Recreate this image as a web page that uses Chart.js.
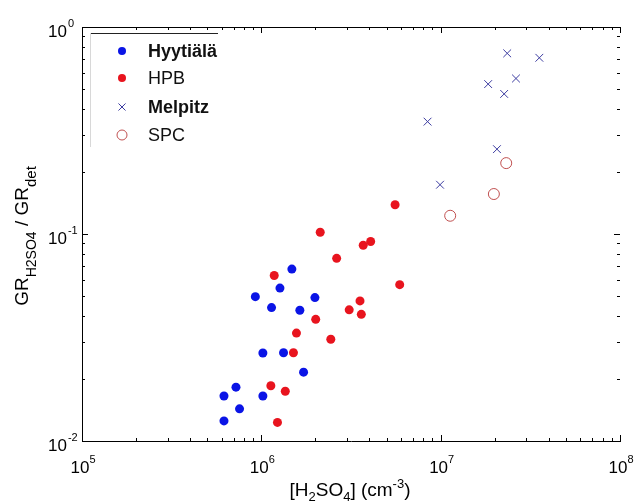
<!DOCTYPE html>
<html>
<head>
<meta charset="utf-8">
<script src="https://cdn.jsdelivr.net/npm/chart.js"></script>
<style>
  body { margin: 0; background: #fff; }
  canvas { display: block; }
</style>
</head>
<body>
<canvas id="chart-gr" width="634" height="503"></canvas>
<script>
var FONT = '"Liberation Sans", Arial, sans-serif';

// [H2SO4] (cm-3) vs GR_H2SO4 / GR_det
var hyytialaX = [6.19e5, 7.22e5, 7.56e5, 6.19e5, 1.02e6, 9.26e5, 1.14e6, 1.27e6, 1.48e6, 1.64e6, 1.99e6, 1.02e6, 1.33e6, 1.72e6];
var hyytialaY = [0.0165, 0.0182, 0.0143, 0.0125, 0.0165, 0.0498, 0.0441, 0.0548, 0.0677, 0.0428, 0.0493, 0.0266, 0.0267, 0.0215];
var hpbX = [2.13e6, 5.57e6, 3.70e6, 4.07e6, 2.63e6, 5.91e6, 3.55e6, 3.09e6, 3.61e6, 2.01e6, 2.44e6, 1.18e6, 1.57e6, 1.51e6, 1.13e6, 1.36e6, 1.23e6];
var hpbY = [0.102, 0.1385, 0.0882, 0.092, 0.0763, 0.0569, 0.0475, 0.043, 0.0409, 0.0387, 0.031, 0.063, 0.0332, 0.0267, 0.0185, 0.0174, 0.0123];
var melpitzX = [2.35e7, 3.55e7, 2.63e7, 1.84e7, 2.26e7, 8.45e6, 2.06e7, 9.92e6];
var melpitzY = [0.746, 0.710, 0.564, 0.530, 0.475, 0.349, 0.257, 0.173];
var spcX = [2.32e7, 1.98e7, 1.13e7];
var spcY = [0.220, 0.156, 0.1225];

var seriesNames = ['Hyytiälä', 'HPB', 'Melpitz', 'SPC'];
var xDecades = [5, 6, 7, 8];
var yDecades = [-2, -1, 0];

function toPoints(xs, ys) {
  return xs.map(function(x, i) { return { x: x, y: ys[i] }; });
}

// 1..9 x 10^n ticks, majors on the decades
function logTicks(scale) {
  var ticks = [];
  var lo = Math.floor(Math.log10(scale.min)), hi = Math.ceil(Math.log10(scale.max));
  for (var d = lo; d <= hi; d++) {
    for (var m = 1; m <= 9; m++) {
      var v = m * Math.pow(10, d);
      if (v >= scale.min * 0.999 && v <= scale.max * 1.001) ticks.push({ value: v, major: m === 1 });
    }
  }
  scale.ticks = ticks;
}

// draw text made of pieces with sub/superscripts, centred on cx
function drawRich(ctx, parts, cx, cy) {
  var total = 0;
  parts.forEach(function(p) {
    ctx.font = (p.bold ? 'bold ' : '') + p.size + 'px ' + FONT;
    p.w = ctx.measureText(p.t).width;
    total += p.w;
  });
  var x = cx - total / 2;
  parts.forEach(function(p) {
    ctx.font = (p.bold ? 'bold ' : '') + p.size + 'px ' + FONT;
    ctx.fillText(p.t, x, cy + (p.dy || 0));
    x += p.w;
  });
}

var frame = {
  id: 'frame',
  afterDraw: function(chart) {
    var ctx = chart.ctx, a = chart.chartArea;
    var xs = chart.scales.x, ys = chart.scales.y;
    ctx.save();
    ctx.strokeStyle = '#000';
    ctx.lineWidth = 1;

    // top edge of the box
    ctx.beginPath();
    ctx.moveTo(a.left, Math.round(a.top) + 0.5);
    ctx.lineTo(a.right, Math.round(a.top) + 0.5);
    ctx.stroke();

    // inward ticks
    ctx.beginPath();
    xs.ticks.forEach(function(t) {
      var px = Math.round(xs.getPixelForValue(t.value)) + 0.5;
      var len = t.major ? 6 : 3;
      ctx.moveTo(px, a.bottom); ctx.lineTo(px, a.bottom - len);
      ctx.moveTo(px, a.top); ctx.lineTo(px, a.top + len);
    });
    ys.ticks.forEach(function(t) {
      var py = Math.round(ys.getPixelForValue(t.value)) + 0.5;
      var len = t.major ? 6 : 3;
      ctx.moveTo(a.left, py); ctx.lineTo(a.left + len, py);
      ctx.moveTo(a.right, py); ctx.lineTo(a.right - len, py);
    });
    ctx.stroke();

    // decade labels
    ctx.fillStyle = '#000';
    ctx.textBaseline = 'alphabetic';
    ctx.textAlign = 'left';
    xDecades.forEach(function(d) {
      var px = xs.getPixelForValue(Math.pow(10, d));
      drawRich(ctx, [{ t: '10', size: 17 }, { t: String(d), size: 11, dy: -10 }], px + 1, a.bottom + 32);
    });
    yDecades.forEach(function(d) {
      var py = ys.getPixelForValue(Math.pow(10, d));
      ctx.font = '17px ' + FONT;
      ctx.fillText('10', 48, py + 10);
      var w = ctx.measureText('10').width;
      ctx.font = '11px ' + FONT;
      ctx.fillText(String(d), 48 + w + 1, py);
    });

    // axis titles
    drawRich(ctx, [
      { t: '[H', size: 19 }, { t: '2', size: 13, dy: 5 }, { t: 'SO', size: 19 },
      { t: '4', size: 13, dy: 5 }, { t: '] (cm', size: 19 }, { t: '-3', size: 13, dy: -8 },
      { t: ')', size: 19 }
    ], 350, 496);
    ctx.save();
    ctx.translate(28, 236);
    ctx.rotate(-Math.PI / 2);
    drawRich(ctx, [
      { t: 'GR', size: 19 }, { t: 'H2SO4', size: 14, dy: 8 }, { t: ' / GR', size: 19 },
      { t: 'det', size: 15, dy: 8 }
    ], 0, 0);
    ctx.restore();

    // legend box (only the top edge survives clearly)
    ctx.strokeStyle = '#222';
    ctx.beginPath();
    ctx.moveTo(90, 33.5); ctx.lineTo(218, 33.5);
    ctx.stroke();
    ctx.strokeStyle = '#d8d8d8';
    ctx.beginPath();
    ctx.moveTo(90.5, 33); ctx.lineTo(90.5, 147);
    ctx.stroke();

    var rows = [51, 78, 107, 135];
    var mx = 122;
    chart.data.datasets.forEach(function(ds, i) {
      var y = rows[i];
      var r = ds.pointRadius - 0.5;
      ctx.fillStyle = ds.backgroundColor;
      ctx.strokeStyle = ds.borderColor;
      ctx.lineWidth = ds.borderWidth || 1;
      ctx.beginPath();
      if (ds.pointStyle === 'crossRot') {
        var h = r * Math.SQRT1_2;
        ctx.moveTo(mx - h, y - h); ctx.lineTo(mx + h, y + h);
        ctx.moveTo(mx - h, y + h); ctx.lineTo(mx + h, y - h);
        ctx.stroke();
      } else {
        ctx.arc(mx, y, r, 0, Math.PI * 2);
        if (ds.backgroundColor !== 'rgba(0,0,0,0)') ctx.fill();
        if (ds.borderWidth) ctx.stroke();
      }
      ctx.fillStyle = '#111';
      ctx.textBaseline = 'middle';
      ctx.font = (i === 0 || i === 2 ? 'bold ' : '') + '18px ' + FONT;
      ctx.fillText(ds.label, 148, y + 1);
    });
    ctx.restore();
  }
};

new Chart(document.getElementById('chart-gr').getContext('2d'), {
  type: 'scatter',
  data: {
    datasets: [{
      label: seriesNames[0],
      data: toPoints(hyytialaX, hyytialaY),
      pointStyle: 'circle',
      pointRadius: 4.5,
      backgroundColor: '#0a14e6',
      borderColor: '#0a14e6',
      borderWidth: 0
    },
    {
      label: seriesNames[1],
      data: toPoints(hpbX, hpbY),
      pointStyle: 'circle',
      pointRadius: 4.5,
      backgroundColor: '#e8141e',
      borderColor: '#e8141e',
      borderWidth: 0
    },
    {
      label: seriesNames[2],
      data: toPoints(melpitzX, melpitzY),
      pointStyle: 'crossRot',
      pointRadius: 5.5,
      backgroundColor: '#3c3ca0',
      borderColor: '#3c3ca0',
      borderWidth: 1
    },
    {
      label: seriesNames[3],
      data: toPoints(spcX, spcY),
      pointStyle: 'circle',
      pointRadius: 5.5,
      backgroundColor: 'rgba(0,0,0,0)',
      borderColor: '#c05050',
      borderWidth: 1
    }]
  },
  options: {
    responsive: false,
    animation: false,
    devicePixelRatio: 1,
    layout: { padding: { top: 27, right: 14, left: 0, bottom: 0 } },
    plugins: {
      legend: { display: false },
      tooltip: { enabled: false }
    },
    scales: {
      x: {
        type: 'logarithmic',
        position: 'bottom',
        min: 1e5,
        max: 1e8,
        afterBuildTicks: logTicks,
        afterFit: function(s) { s.height = 62; },
        ticks: { display: false },
        grid: { display: false },
        border: { display: true, color: '#000', width: 1 }
      },
      y: {
        type: 'logarithmic',
        position: 'left',
        min: 1e-2,
        max: 1,
        afterBuildTicks: logTicks,
        afterFit: function(s) { s.width = 82; },
        ticks: { display: false },
        grid: { display: false },
        border: { display: true, color: '#000', width: 1 }
      }
    }
  },
  plugins: [frame]
});
</script>
</body>
</html>
